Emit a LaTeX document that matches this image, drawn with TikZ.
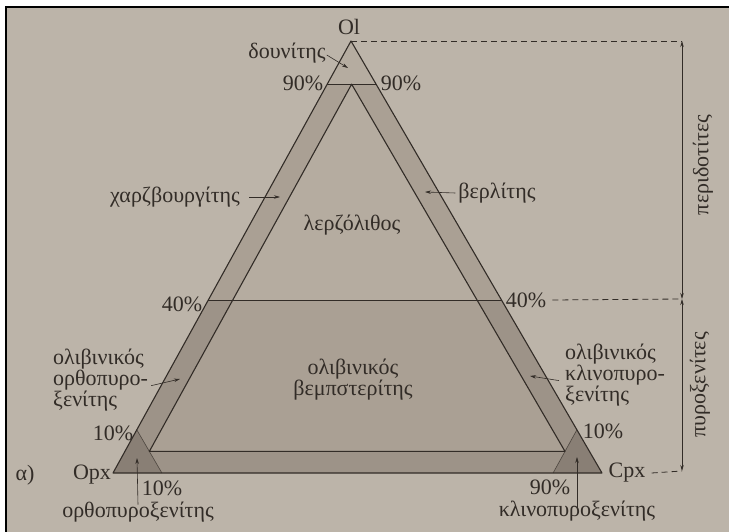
\documentclass[tikz,border=0pt]{standalone}
\usepackage{fontspec}
\setmainfont{Liberation Serif}
\usetikzlibrary{arrows.meta}
\definecolor{page}{RGB}{188,180,169}
\definecolor{lite}{RGB}{181,172,160}
\definecolor{bandA}{RGB}{170,160,148}
\definecolor{lowA}{RGB}{170,160,148}
\definecolor{bandB}{RGB}{157,147,136}
\definecolor{corner}{RGB}{137,127,117}
\definecolor{ink}{RGB}{50,44,39}
\begin{document}
\begin{tikzpicture}[x=1pt,y=-1pt,
  lbl/.style={inner sep=0pt, text=ink, font=\fontsize{22}{21}\selectfont},
  ln/.style={draw=ink, line width=1.1pt, line join=round},
  thin/.style={draw=ink!70!corner, line width=0.6pt},
  arr/.style={draw=ink, line width=0.6pt, -{Stealth[length=6pt,width=3.5pt]}},
  dim/.style={draw=ink, line width=0.7pt, {Stealth[length=6pt,width=3.5pt]}-{Stealth[length=6pt,width=3.5pt]}},
  dsh/.style={draw=ink, line width=0.8pt, dash pattern=on 6pt off 4pt}]
\useasboundingbox (0,0) rectangle (729,532);
\fill[white] (0,0) rectangle (729,532);
\fill[page] (6,7) rectangle (729,532);
\draw[black, line width=2pt] (6,532) -- (6,7) -- (729,7);
% corner points
\coordinate (Ol) at (351,41);
\coordinate (Opx) at (113,473);
\coordinate (Cpx) at (602,473);
\coordinate (d1) at (327.2,84.2);
\coordinate (d2) at (376.1,84.2);
\coordinate (dc) at (351.65,84.2);
\coordinate (f1) at (208.2,300.2);
\coordinate (f2) at (501.6,300.2);
\coordinate (fi1) at (232.65,300.2);
\coordinate (fi2) at (477.15,300.2);
\coordinate (t1) at (136.8,429.8);
\coordinate (t2) at (576.9,429.8);
\coordinate (i1) at (149.35,451.4);
\coordinate (i2) at (565.0,451.4);
\coordinate (b1) at (161.9,473);
\coordinate (b2) at (553.1,473);
% fills
\fill[lite] (Ol) -- (d1) -- (d2) -- cycle;
\fill[bandA] (d1) -- (dc) -- (fi1) -- (f1) -- cycle;
\fill[bandA] (d2) -- (dc) -- (fi2) -- (f2) -- cycle;
\fill[lite] (dc) -- (fi1) -- (fi2) -- cycle;
\fill[lowA] (fi1) -- (fi2) -- (i2) -- (i1) -- cycle;
\fill[bandB] (f1) -- (fi1) -- (i1) -- (t1) -- cycle;
\fill[bandB] (f2) -- (fi2) -- (i2) -- (t2) -- cycle;
\fill[bandB] (i1) -- (i2) -- (b2) -- (b1) -- cycle;
\fill[corner] (Opx) -- (t1) -- (b1) -- cycle;
\fill[corner] (Cpx) -- (t2) -- (b2) -- cycle;
% lines
\draw[thin] (t1) -- (b1);
\draw[thin] (t2) -- (b2);
\draw[ln] (d1) -- (d2);
\draw[ln] (f1) -- (f2);
\draw[ln] (i1) -- (dc) -- (i2) -- cycle;
\draw[ln] (Ol) -- (Opx) -- (Cpx) -- cycle;
% labels
\node[lbl] (olL) at (349,27) {Ol};
\node[lbl] (dun) at (287,53) {δουνίτης};
\node[lbl] (n90l) at (303,83) {90\%};
\node[lbl] (n90r) at (401,83) {90\%};
\node[lbl] (harz) at (175,197) {χαρζβουργίτης};
\node[lbl] (lherz) at (352,225) {λερζόλιθος};
\node[lbl] (wehr) at (497,193) {βερλίτης};
\node[lbl] (n40l) at (182,304) {40\%};
\node[lbl] (n40r) at (526,300) {40\%};
\node[lbl, anchor=base] (web1) at (353,374) {ολιβινικός};
\node[lbl, anchor=base] (web2) at (353,395) {βεμπστερίτης};
\node[lbl, anchor=base west] (oo1) at (53,364) {ολιβινικός};
\node[lbl, anchor=base west] (oo2) at (53,385) {ορθοπυρο-};
\node[lbl, anchor=base west] (oo3) at (53,406) {ξενίτης};
\node[lbl, anchor=base west] (oc1) at (565,359) {ολιβινικός};
\node[lbl, anchor=base west] (oc2) at (565,380) {κλινοπυρο-};
\node[lbl, anchor=base west] (oc3) at (565,401) {ξενίτης};
\node[lbl] (n10l) at (113,433) {10\%};
\node[lbl] (alpha) at (25,475) {α)};
\node[lbl] (opxL) at (92,475) {Opx};
\node[lbl] (n10b) at (162,488) {10\%};
\node[lbl] (orth) at (138,512) {ορθοπυροξενίτης};
\node[lbl] (n10r) at (603,431) {10\%};
\node[lbl] (cpxL) at (627,473) {Cpx};
\node[lbl] (n90b) at (550,487) {90\%};
\node[lbl] (clin) at (577,511) {κλινοπυροξενίτης};
\node[lbl, rotate=90] (perid) at (703,165) {περιδοτίτες};
\node[lbl, rotate=90] (pyrox) at (700,385) {πυροξενίτες};
% arrow targets
\coordinate (dunpt) at (348,68);
\coordinate (harzpt) at (280,197);
\coordinate (wehrpt) at (425,192);
\coordinate (oopt) at (180,379);
\coordinate (ocpt) at (530,376);
\coordinate (opxin) at (137,458);
\coordinate (cpxin) at (577,457);
\draw[arr] ([xshift=1pt,yshift=-2pt]dun.east) -- (dunpt);
\draw[arr] ([xshift=9pt]harz.east) -- (harzpt);
\draw[arr] ([xshift=-3pt]wehr.west) -- (wehrpt);
\draw[arr] ([xshift=3pt,yshift=-6pt]oo2.east) -- (oopt);
\draw[arr] ([xshift=-6pt,yshift=-6pt]oc2.west) -- (ocpt);
\draw[arr] ([yshift=-3pt]orth.north) -- (opxin);
\draw[arr] ([yshift=-7pt]clin.north) -- (cpxin);
% dimension lines
\coordinate (dtop) at (682,41);
\coordinate (dmid) at (682,299);
\coordinate (dbot) at (682,471);
\draw[dsh] (Ol) -- (dtop);
\draw[dsh] ([xshift=6pt]n40r.east) -- (dmid);
\draw[dsh] ([xshift=6pt]cpxL.east) -- (dbot);
\draw[dim] (dtop) -- (dmid);
\draw[dim] (dmid) -- (dbot);
\end{tikzpicture}
\end{document}
